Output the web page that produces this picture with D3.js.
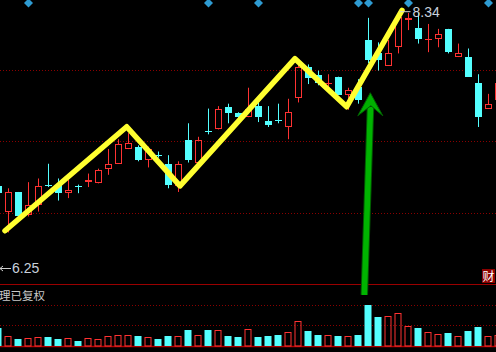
<!DOCTYPE html>
<html>
<head>
<meta charset="utf-8">
<script src="https://cdn.jsdelivr.net/npm/d3@7"></script>
<style>
  html, body { margin: 0; padding: 0; background: #000; }
  svg { display: block; }
</style>
</head>
<body>
<svg id="chart"></svg>
<script>
// candle index -1 is the partly hidden bar at the left edge
const dayIndex = d3.range(-1, 50);
const openP  = [6.92,6.71,6.87,6.68,6.76,6.93,6.93,6.86,6.92,6.95,6.94,7.06,7.10,7.22,7.24,7.13,7.17,7.10,6.92,7.29,7.11,7.37,7.38,7.56,7.51,7.48,7.57,7.45,7.46,7.40,7.64,7.89,7.82,7.75,7.81,7.66,7.73,8.11,8.00,7.90,8.05,8.27,8.21,8.11,8.12,8.20,7.97,7.97,7.76,7.55,7.62];
const highP  = [6.93,6.90,6.87,6.95,6.98,7.10,6.98,6.97,6.93,7.02,7.06,7.22,7.30,7.35,7.25,7.24,7.20,7.17,7.12,7.43,7.32,7.55,7.57,7.59,7.52,7.72,7.61,7.57,7.59,7.63,7.95,7.91,7.86,7.83,7.81,7.72,7.79,8.29,8.09,8.11,8.34,8.33,8.33,8.24,8.20,8.20,8.08,8.04,7.83,7.67,7.76];
const lowP   = [6.86,6.54,6.66,6.67,6.71,6.91,6.80,6.82,6.86,6.91,6.94,7.01,7.10,7.22,7.12,7.07,7.15,6.90,6.87,7.11,7.09,7.34,7.38,7.43,7.43,7.48,7.44,7.40,7.43,7.30,7.60,7.75,7.74,7.72,7.66,7.54,7.59,7.92,7.86,7.90,8.00,8.19,8.08,8.01,8.05,8.00,7.97,7.81,7.40,7.55,7.62];
const closeP = [6.86,6.87,6.67,6.76,6.92,6.92,6.86,6.89,6.91,6.97,7.05,7.10,7.26,7.27,7.13,7.22,7.16,6.93,7.10,7.13,7.29,7.36,7.55,7.51,7.48,7.55,7.48,7.42,7.45,7.52,7.89,7.80,7.76,7.76,7.66,7.70,7.62,7.95,7.95,8.00,8.30,8.29,8.12,8.12,8.16,8.01,8.00,7.81,7.48,7.59,7.76];
const volume = [18.3,10,7,7.7,9,9,7,7.7,5,7.7,6.7,10,11,11,10,9,7,10,10,16,11,16,16,10,9,17,9,10,11,14,25,15,11,11,10,10,11,41,29,30,33,20,18,14,12,13,10,15,19,10,11];

// markers along the top edge (candle index)
const markerIdx = [2, 20, 25, 35, 36, 40, 48];
// hand drawn zigzag (candle index, price)
const zigIdx   = [-0.35, 11.82, 17.15, 28.65, 33.82, 39.35];
const zigPrice = [6.554, 7.402, 6.919, 7.957, 7.565, 8.35];
// green arrow: tail and tip (candle index, price)
const arrowIdx   = [35.58, 36.18];
const arrowPrice = [6.03, 7.679];

const maxPrice = 8.34, minPrice = 6.25;

const W = 496, H = 352;
const mainTop = -2, mainBottom = 284, volBottom = 346;

const svg = d3.select("#chart").attr("width", W).attr("height", H);
svg.append("rect").attr("width", W).attr("height", H).attr("fill", "#000");

const x = d3.scaleLinear().domain([-1, 49]).range([-1.5, 498.5]);
const y = d3.scaleLinear().domain([minPrice, maxPrice]).range([268, 11.7]);
const yVol = d3.scaleLinear().domain([0, 62]).range([volBottom, mainBottom]);

const bars = dayIndex.map((k, i) => ({
    k, o: openP[i], h: highP[i], l: lowP[i], c: closeP[i], v: volume[i],
    up: closeP[i] >= openP[i]
}));

const red = "#ff3232", cyan = "#54ffff", grid = "#8a0000";

// dotted grid lines
const mainGrid = [1, 2, 3].map(f => mainTop + (mainBottom - mainTop) * f / 4);
const volGrid = [1, 2].map(f => mainBottom + (volBottom - mainBottom) * f / 3);
svg.selectAll(".grid")
    .data(mainGrid.concat(volGrid))
    .enter().append("line")
    .attr("x1", 0).attr("x2", W)
    .attr("y1", d => Math.round(d) + 0.5).attr("y2", d => Math.round(d) + 0.5)
    .attr("stroke", grid)
    .attr("stroke-dasharray", "1,2");

// pane separator and bottom line
svg.append("line").attr("x1", 0).attr("x2", W).attr("y1", mainBottom + 0.5).attr("y2", mainBottom + 0.5)
    .attr("stroke", "#9a0000");
svg.append("line").attr("x1", 0).attr("x2", W).attr("y1", volBottom + 0.5).attr("y2", volBottom + 0.5)
    .attr("stroke", "#b00000").attr("stroke-width", 1.5);

// candles
const bw = 7;
const candle = svg.append("g").selectAll("g")
    .data(bars)
    .enter().append("g");

candle.each(function(d) {
    const g = d3.select(this);
    const cx = Math.floor(x(d.k)) + 0.5;
    const top = Math.round(y(Math.max(d.o, d.c)));
    const bot = Math.max(top + 1, Math.round(y(Math.min(d.o, d.c))));
    const col = d.up ? red : cyan;
    if (d.up) {
        g.append("line").attr("x1", cx).attr("x2", cx)
            .attr("y1", y(d.h)).attr("y2", top).attr("stroke", col);
        g.append("line").attr("x1", cx).attr("x2", cx)
            .attr("y1", bot).attr("y2", y(d.l)).attr("stroke", col);
        g.append("rect")
            .attr("x", cx - 3).attr("y", top + 0.5)
            .attr("width", bw - 1).attr("height", Math.max(0.01, bot - top - 1))
            .attr("fill", "none").attr("stroke", col);
    } else {
        g.append("line").attr("x1", cx).attr("x2", cx)
            .attr("y1", y(d.h)).attr("y2", y(d.l)).attr("stroke", col);
        g.append("rect")
            .attr("x", cx - 3.5).attr("y", top)
            .attr("width", bw).attr("height", bot - top)
            .attr("fill", col);
    }
});

// volume bars
svg.append("g").selectAll("rect")
    .data(bars)
    .enter().append("rect")
    .attr("x", d => Math.floor(x(d.k)) + (d.up ? -3 : -3.5))
    .attr("y", d => Math.round(yVol(d.v)) + (d.up ? 0.5 : 0))
    .attr("width", d => d.up ? bw - 1 : bw)
    .attr("height", d => volBottom - Math.round(yVol(d.v)) - (d.up ? 0.5 : 0))
    .attr("fill", d => d.up ? "none" : cyan)
    .attr("stroke", d => d.up ? red : "none");

// top markers
svg.append("g").selectAll("path")
    .data(markerIdx)
    .enter().append("path")
    .attr("d", k => {
        const cx = x(k);
        return `M${cx},-1.5 L${cx + 4.5},3 L${cx},7.5 L${cx - 4.5},3 Z`;
    })
    .attr("fill", "#2e9bd2");

// yellow zigzag
const zig = zigIdx.map((k, i) => [x(k), y(zigPrice[i])]);
svg.append("path")
    .attr("d", d3.line()(zig))
    .attr("fill", "none")
    .attr("stroke", "#ffff30")
    .attr("stroke-width", 5.5)
    .attr("stroke-linejoin", "round")
    .attr("stroke-linecap", "round");

// green arrow
const tail = [x(arrowIdx[0]), y(arrowPrice[0])];
const tip = [x(arrowIdx[1]), y(arrowPrice[1])];
svg.append("line")
    .attr("x1", tail[0]).attr("y1", tail[1])
    .attr("x2", tip[0] + 0.2).attr("y2", tip[1] + 14)
    .attr("stroke", "#005a00").attr("stroke-width", 7.5);
svg.append("line")
    .attr("x1", tail[0]).attr("y1", tail[1])
    .attr("x2", tip[0] + 0.2).attr("y2", tip[1] + 14)
    .attr("stroke", "#00b400").attr("stroke-width", 5.5);
svg.append("path")
    .attr("d", `M${tip[0]},${tip[1]} L${tip[0] + 12.5},${tip[1] + 23} L${tip[0] + 0.6},${tip[1] + 13} L${tip[0] - 12.5},${tip[1] + 23} Z`)
    .attr("fill", "#00b000")
    .attr("stroke", "#006000")
    .attr("stroke-width", 1);

// max / min price labels
const numFont = "'Liberation Sans Narrow', 'Arial Narrow', 'Liberation Sans', sans-serif";
const hiX = x(39);
svg.append("line").attr("x1", hiX + 1).attr("x2", hiX + 12)
    .attr("y1", y(maxPrice)).attr("y2", y(maxPrice))
    .attr("stroke", "#d0d0d0");
svg.append("text")
    .attr("x", hiX + 14).attr("y", 17)
    .style("font-family", numFont).style("font-size", "14px")
    .style("fill", "#c8d0dc")
    .text(d3.format(".2f")(maxPrice));

svg.append("path")
    .attr("d", "M0,268.5 L11,268.5 M0,268.5 L3,266 M0,268.5 L3,271")
    .attr("stroke", "#d0d0d0").attr("fill", "none");
svg.append("text")
    .attr("x", 12).attr("y", 273)
    .style("font-family", numFont).style("font-size", "14px")
    .style("fill", "#c8d0dc")
    .text(d3.format(".2f")(minPrice));

// volume pane title
svg.append("text")
    .attr("x", -1).attr("y", 300)
    .style("font-family", "'Noto Sans CJK SC', sans-serif")
    .style("font-size", "11.5px")
    .style("fill", "#c8c8c8")
    .text("理已复权");

// 财 badge
svg.append("rect").attr("x", 482).attr("y", 269).attr("width", 13).attr("height", 14)
    .attr("fill", "#8b0000");
svg.append("text")
    .attr("x", 488.5).attr("y", 280.5)
    .attr("text-anchor", "middle")
    .style("font-family", "'Noto Sans CJK SC', sans-serif")
    .style("font-size", "12px")
    .style("fill", "#fff")
    .text("财");
</script>
</body>
</html>
